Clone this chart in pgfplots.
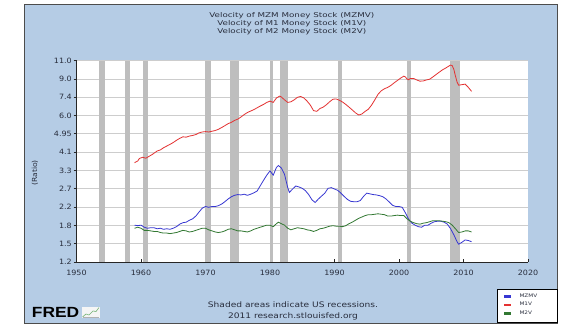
\documentclass[border=0pt]{standalone}
\usepackage{pgfplots}
\pgfplotsset{compat=1.18}
\usepackage{fontspec}
\setmainfont{DejaVu Sans}
\newfontfamily\titlefont[FakeStretch=1.33]{DejaVu Sans}
\newfontfamily\tickfont[FakeStretch=1.1]{DejaVu Sans}
\newfontfamily\botfont[FakeStretch=1.2]{DejaVu Sans}
\newfontfamily\legfont[FakeStretch=1.2]{DejaVu Sans}
\newfontfamily\fredfont[FakeStretch=1.18]{Liberation Sans}
\definecolor{panel}{RGB}{181,204,229}
\definecolor{recgray}{RGB}{190,190,190}
\definecolor{gridgray}{RGB}{205,205,205}
\definecolor{cblue}{RGB}{55,55,210}
\definecolor{cred}{RGB}{228,50,50}
\definecolor{cgreen}{RGB}{50,120,50}
\definecolor{txt}{RGB}{40,45,60}
\begin{document}
\begin{tikzpicture}
\path[use as bounding box] (0,0) rectangle (578bp,335bp);
% panel
\draw[fill=panel, draw=black!70, line width=0.8bp] (24bp,11.7bp) rectangle (557bp,331bp);
% titles
\node[anchor=base, inner sep=0, text=txt] at (291.8bp,317bp) {\titlefont\fontsize{6.6}{7}\selectfont Velocity of MZM Money Stock (MZMV)};
\node[anchor=base, inner sep=0, text=txt] at (291.8bp,309.2bp) {\titlefont\fontsize{6.6}{7}\selectfont Velocity of M1 Money Stock (M1V)};
\node[anchor=base, inner sep=0, text=txt] at (291.8bp,301.4bp) {\titlefont\fontsize{6.6}{7}\selectfont Velocity of M2 Money Stock (M2V)};
% y label
\node[rotate=90, inner sep=0, text=txt] at (35bp,162bp) {\tickfont\fontsize{7}{8}\selectfont (Ratio)};
% bottom text
\node[anchor=base, inner sep=0, text=txt] at (293bp,27.5bp) {\botfont\fontsize{7.6}{8}\selectfont Shaded areas indicate US recessions.};
\node[anchor=base, inner sep=0, text=txt] at (293bp,16.5bp) {\botfont\fontsize{7.6}{8}\selectfont 2011 research.stlouisfed.org};
% FRED logo
\node[anchor=base west, inner sep=0] at (31.7bp,17.7bp) {\fredfont\bfseries\fontsize{14.8}{15}\selectfont FRED};
\fill[white!92!gray] (81.7bp,17bp) rectangle (100bp,28.3bp);
\draw[green!45!black!55, line width=0.6bp] (82.5bp,18bp) -- (86bp,21bp) -- (89bp,20bp) -- (93bp,24bp) -- (96bp,23.5bp) -- (99bp,27.5bp);
\draw[gray!60, line width=0.4bp] (82.5bp,18bp) -- (99bp,18bp);
% legend box
\draw[fill=white, draw=black, line width=0.8bp] (497.3bp,12.3bp) rectangle (557bp,45.7bp);
\begin{axis}[
  at={(76.5bp,73bp)}, anchor=south west,
  scale only axis, width=451.5bp, height=201.3bp,
  xmin=1950, xmax=2020, ymin=1.2, ymax=11, ymode=log,
  axis background/.style={fill=white},
  axis x line*=bottom, axis y line*=left,
  axis line style={-, draw=black!85, line width=0.9bp},
  xtick={1950,1960,1970,1980,1990,2000,2010,2020},
  xticklabels={1950,1960,1970,1980,1990,2000,2010,2020},
  ytick={1.2,1.4678,1.7952,2.1958,2.6857,3.2850,4.0180,4.9145,6.0110,7.3522,8.9926,11.0},
  yticklabels={1.2,1.5,1.8,2.2,2.7,3.3,4.1,4.95,6.0,7.4,9.0,11.0},
  xtick align=inside, ytick align=outside,
  major tick length=3bp,
  tick style={draw=black!85, line width=0.8bp},
  minor tick num=0,
  ymajorgrids, grid style={gridgray, line width=0.9bp},
  /pgf/number format/assume math mode=true,
  tick label style={font=\tickfont\fontsize{7.3}{8}\selectfont, text=txt},
  xticklabel style={yshift=-4.5bp},
  yticklabel style={inner sep=1.5bp},
  clip=true,
  legend style={at={(rel axis cs:0.9464,-0.152)}, anchor=north west, draw=none, fill=none,
    font=\legfont\fontsize{4.8}{5}\selectfont, row sep=1.0bp, inner sep=0pt,
    nodes={inner sep=1.2bp, text=txt},
    /tikz/every odd column/.append style={column sep=8bp}},
  legend cell align=left,
  legend image code/.code={\fill[#1] (0bp,-0.85bp) rectangle (5.5bp,0.85bp);},
]
% recessions
\addplot[fill=recgray, draw=none, forget plot] coordinates {(1953.5,1.2) (1953.5,11) (1954.37,11) (1954.37,1.2)} -- cycle;
\addplot[fill=recgray, draw=none, forget plot] coordinates {(1957.58,1.2) (1957.58,11) (1958.25,11) (1958.25,1.2)} -- cycle;
\addplot[fill=recgray, draw=none, forget plot] coordinates {(1960.25,1.2) (1960.25,11) (1961.08,11) (1961.08,1.2)} -- cycle;
\addplot[fill=recgray, draw=none, forget plot] coordinates {(1969.92,1.2) (1969.92,11) (1970.83,11) (1970.83,1.2)} -- cycle;
\addplot[fill=recgray, draw=none, forget plot] coordinates {(1973.83,1.2) (1973.83,11) (1975.17,11) (1975.17,1.2)} -- cycle;
\addplot[fill=recgray, draw=none, forget plot] coordinates {(1980.0,1.2) (1980.0,11) (1980.5,11) (1980.5,1.2)} -- cycle;
\addplot[fill=recgray, draw=none, forget plot] coordinates {(1981.5,1.2) (1981.5,11) (1982.83,11) (1982.83,1.2)} -- cycle;
\addplot[fill=recgray, draw=none, forget plot] coordinates {(1990.5,1.2) (1990.5,11) (1991.17,11) (1991.17,1.2)} -- cycle;
\addplot[fill=recgray, draw=none, forget plot] coordinates {(2001.17,1.2) (2001.17,11) (2001.83,11) (2001.83,1.2)} -- cycle;
\addplot[fill=recgray, draw=none, forget plot] coordinates {(2007.92,1.2) (2007.92,11) (2009.42,11) (2009.42,1.2)} -- cycle;
% MZMV
\addplot[cblue, line width=0.8bp] coordinates {
(1959.0,1.80) (1959.5,1.79) (1960.0,1.80) (1960.5,1.76) (1961.0,1.74) (1961.5,1.75) (1962.0,1.75) (1962.5,1.73)
(1963.0,1.74) (1963.5,1.72) (1964.0,1.73) (1964.5,1.72) (1965.0,1.74) (1965.5,1.77) (1966.0,1.82) (1966.5,1.85)
(1967.0,1.86) (1967.5,1.90) (1968.0,1.93) (1968.5,1.99) (1969.0,2.08) (1969.5,2.17) (1970.0,2.21) (1970.5,2.19)
(1971.0,2.21) (1971.5,2.21) (1972.0,2.23) (1972.5,2.27) (1973.0,2.33) (1973.5,2.40) (1974.0,2.46) (1974.5,2.50)
(1975.0,2.52) (1975.5,2.51) (1976.0,2.53) (1976.5,2.50) (1977.0,2.53) (1977.5,2.57) (1978.0,2.62) (1978.5,2.78)
(1979.0,2.95) (1979.5,3.12) (1980.0,3.27) (1980.5,3.12) (1981.0,3.40) (1981.3,3.47) (1981.75,3.38) (1982.25,3.15)
(1982.75,2.72) (1983.0,2.58) (1983.5,2.68) (1984.0,2.77) (1984.5,2.74) (1985.0,2.70) (1985.5,2.63) (1986.0,2.52)
(1986.5,2.38) (1987.0,2.31) (1987.5,2.40) (1988.0,2.48) (1988.5,2.56) (1989.0,2.70) (1989.5,2.72) (1990.0,2.68)
(1990.5,2.64) (1991.0,2.56) (1991.5,2.47) (1992.0,2.39) (1992.5,2.34) (1993.0,2.33) (1993.5,2.33) (1994.0,2.36)
(1994.5,2.47) (1995.0,2.56) (1995.5,2.54) (1996.0,2.52) (1996.5,2.51) (1997.0,2.49) (1997.5,2.46) (1998.0,2.40)
(1998.5,2.32) (1999.0,2.24) (1999.5,2.21) (2000.0,2.21) (2000.5,2.19) (2001.0,2.06) (2001.5,1.92) (2002.0,1.84)
(2002.5,1.80) (2003.0,1.77) (2003.5,1.76) (2004.0,1.80) (2004.5,1.80) (2005.0,1.84) (2005.5,1.87) (2006.0,1.88)
(2006.5,1.88) (2007.0,1.86) (2007.5,1.82) (2008.0,1.73) (2008.5,1.62) (2009.0,1.50) (2009.25,1.46) (2009.75,1.49)
(2010.25,1.53) (2010.75,1.52) (2011.25,1.50)
};
\addlegendentry{MZMV}
% M1V
\addplot[cred, line width=0.8bp] coordinates {
(1959.0,3.58) (1959.5,3.65) (1959.75,3.75) (1960.25,3.80) (1960.75,3.76) (1961.25,3.84) (1961.75,3.92) (1962.5,4.07)
(1963.0,4.12) (1963.5,4.22) (1964.0,4.30) (1964.5,4.38) (1965.0,4.47) (1965.5,4.58) (1966.0,4.68) (1966.5,4.76)
(1967.0,4.74) (1967.5,4.80) (1968.0,4.83) (1968.5,4.88) (1969.0,4.97) (1969.5,5.02) (1970.0,5.04) (1970.5,5.02)
(1971.0,5.06) (1971.5,5.10) (1972.0,5.17) (1972.5,5.27) (1973.0,5.38) (1973.5,5.50) (1974.0,5.58) (1974.5,5.70)
(1975.0,5.78) (1975.5,5.92) (1976.0,6.08) (1976.5,6.22) (1977.0,6.32) (1977.5,6.42) (1978.0,6.55) (1978.5,6.68)
(1979.0,6.80) (1979.5,6.95) (1980.0,7.05) (1980.5,6.95) (1981.0,7.30) (1981.5,7.45) (1981.75,7.38) (1982.25,7.15)
(1982.75,6.95) (1983.25,7.00) (1983.75,7.15) (1984.25,7.35) (1984.75,7.42) (1985.25,7.30) (1985.75,7.05) (1986.25,6.75)
(1986.75,6.35) (1987.25,6.30) (1987.75,6.50) (1988.25,6.60) (1988.75,6.78) (1989.25,7.00) (1989.75,7.20) (1990.25,7.22)
(1990.75,7.12) (1991.25,6.98) (1991.75,6.80) (1992.25,6.60) (1992.75,6.40) (1993.25,6.20) (1993.75,6.05) (1994.25,6.12)
(1994.75,6.30) (1995.25,6.45) (1995.75,6.75) (1996.25,7.15) (1996.75,7.60) (1997.25,7.90) (1997.75,8.08) (1998.25,8.20)
(1998.75,8.38) (1999.25,8.62) (1999.75,8.85) (2000.25,9.08) (2000.75,9.28) (2001.0,9.20) (2001.25,8.98) (2001.5,8.92)
(2001.75,9.05) (2002.25,9.05) (2002.75,8.90) (2003.25,8.78) (2003.75,8.80) (2004.25,8.90) (2004.75,8.97) (2005.25,9.20)
(2005.75,9.45) (2006.25,9.70) (2006.75,9.95) (2007.25,10.15) (2007.75,10.38) (2008.0,10.48) (2008.25,10.42) (2008.5,10.0)
(2008.75,9.30) (2009.0,8.70) (2009.25,8.40) (2009.75,8.45) (2010.25,8.50) (2010.75,8.20) (2011.25,7.85)
};
\addlegendentry{M1V}
% M2V
\addplot[cgreen, line width=0.8bp] coordinates {
(1959.0,1.74) (1959.5,1.76) (1960.0,1.74) (1960.5,1.70) (1961.0,1.70) (1961.5,1.69) (1962.0,1.68) (1962.5,1.68)
(1963.0,1.66) (1963.5,1.65) (1964.0,1.65) (1964.5,1.64) (1965.0,1.65) (1965.5,1.66) (1966.0,1.68) (1966.5,1.70)
(1967.0,1.69) (1967.5,1.67) (1968.0,1.68) (1968.5,1.70) (1969.0,1.72) (1969.5,1.74) (1970.0,1.74) (1970.5,1.71)
(1971.0,1.69) (1971.5,1.67) (1972.0,1.66) (1972.5,1.67) (1973.0,1.69) (1973.5,1.72) (1974.0,1.73) (1974.5,1.71)
(1975.0,1.69) (1975.5,1.69) (1976.0,1.68) (1976.5,1.67) (1977.0,1.69) (1977.5,1.72) (1978.0,1.74) (1978.5,1.76)
(1979.0,1.78) (1979.5,1.80) (1980.0,1.80) (1980.5,1.77) (1981.0,1.83) (1981.3,1.86) (1981.75,1.83) (1982.25,1.80)
(1982.75,1.74) (1983.25,1.71) (1983.75,1.73) (1984.25,1.75) (1984.75,1.74) (1985.25,1.73) (1985.75,1.71) (1986.25,1.70)
(1986.75,1.68) (1987.25,1.70) (1987.75,1.73) (1988.25,1.74) (1988.75,1.76) (1989.25,1.78) (1989.75,1.79) (1990.25,1.78)
(1990.75,1.78) (1991.25,1.77) (1991.75,1.79) (1992.25,1.83) (1992.75,1.86) (1993.25,1.90) (1993.75,1.94) (1994.25,1.97)
(1994.75,2.00) (1995.25,2.02) (1995.75,2.02) (1996.25,2.03) (1996.75,2.04) (1997.25,2.03) (1997.75,2.02) (1998.25,1.99)
(1998.75,1.99) (1999.25,2.00) (1999.75,2.01) (2000.25,2.00) (2000.75,2.00) (2001.25,1.93) (2001.75,1.88) (2002.25,1.85)
(2002.75,1.83) (2003.25,1.82) (2003.75,1.84) (2004.25,1.85) (2004.75,1.87) (2005.25,1.89) (2005.75,1.89) (2006.25,1.89)
(2006.75,1.88) (2007.25,1.87) (2007.75,1.85) (2008.25,1.80) (2008.75,1.73) (2009.25,1.66) (2009.75,1.67) (2010.25,1.69)
(2010.75,1.69) (2011.25,1.67)
};
\addlegendentry{M2V}
\end{axis}
\end{tikzpicture}
\end{document}
